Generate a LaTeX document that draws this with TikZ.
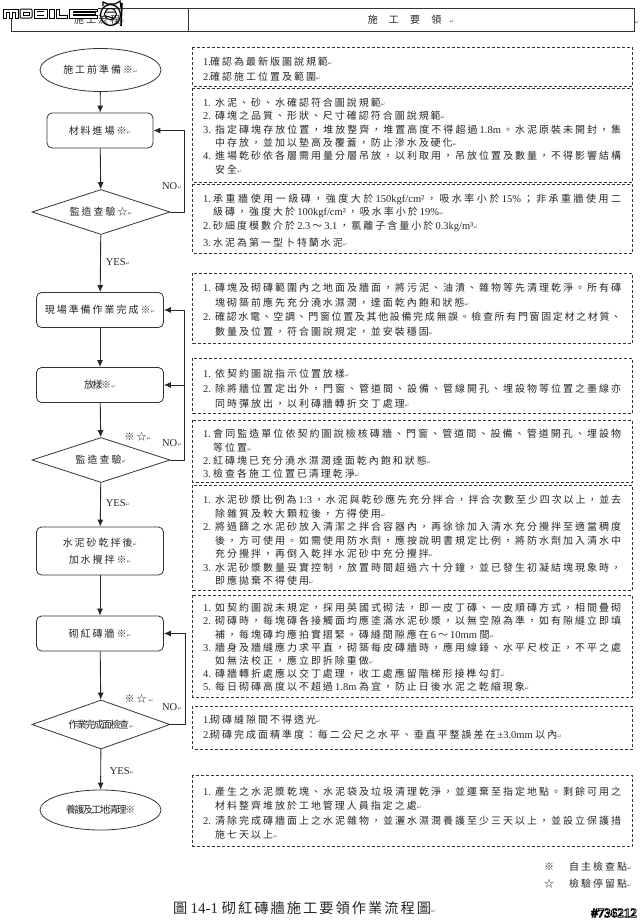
\documentclass[tikz,border=0pt]{standalone}
\usepackage{fontspec}
\usetikzlibrary{shapes.geometric,arrows.meta}
\setmainfont{Liberation Serif}
\newfontfamily\cjkf[Scale=0.95]{Noto Sans CJK TC}
\newfontfamily\latf{Liberation Serif}
\newfontfamily\djv{DejaVu Sans}
\newfontfamily\hds{Liberation Sans}
\newskip\cjgap \cjgap=2pt plus 12pt minus 2pt
\XeTeXinterchartokenstate=1
\newXeTeXintercharclass\cjkcls
\newXeTeXintercharclass\symcls
\newcount\cc
\def\setrange#1#2{\cc=#1\relax\loop\XeTeXcharclass\cc=\cjkcls\relax\ifnum\cc<#2\advance\cc by 1\repeat}
\setrange{"3000}{"303F}
\setrange{"4E00}{"9FFF}
\setrange{"FF00}{"FFEF}
\XeTeXcharclass"203B=\cjkcls
\XeTeXcharclass"2606=\cjkcls
\XeTeXcharclass"21B5=\symcls
\XeTeXinterchartoks 0 \cjkcls={\hskip\cjgap\cjkf}
\XeTeXinterchartoks \cjkcls 0={\hskip\cjgap\latf}
\XeTeXinterchartoks \cjkcls \cjkcls={\hskip\cjgap}
\XeTeXinterchartoks 4095 \cjkcls={\cjkf}
\XeTeXinterchartoks 4095 0={\latf}
\newcommand\rt{{\djv\fontsize{5.5}{6}\selectfont\color{black!60}↵}}
\def\numw{12pt}
\newcommand\stt{\vrule height 8pt depth 3pt width 0pt}
\newcommand\jn[2]{\hbox to 418pt{\stt\hbox to \numw{#1\hfil}#2}}
\newcommand\nn[2]{\hbox{\stt\hbox to \numw{#1\hfil}#2\rt}}
\newcommand\tight{\cjgap=-1.5pt\relax}
% block of text: name, first line centre y, pitch, number width, lines
\newcommand\tb[5]{\node[textblock] (#1) at (203,#2-4) {\vtop{\def\numw{#4}\baselineskip=#3pt\lineskiplimit=-20pt\lineskip=0pt #5}};}
\tikzset{
 textblock/.style={anchor=north west,inner sep=0pt,font=\fontsize{10.5}{12}\selectfont,text=black!85},
 flowtext/.style={font=\fontsize{10.5}{13}\selectfont,text=black!85,align=center,inner sep=0pt},
 procbox/.style={flowtext,draw=black!80,line width=0.8pt,rectangle,rounded corners=5pt,minimum width=127pt,minimum height=35pt},
 startend/.style={flowtext,draw=black!80,line width=0.8pt,ellipse,minimum width=121pt,minimum height=43pt},
 decision/.style={flowtext,draw=black!80,line width=0.8pt,diamond,aspect=3,minimum width=138pt,minimum height=45pt},
 notebox/.style={draw=black!80,line width=0.8pt,dash pattern=on 3pt off 2pt},
 headcell/.style={flowtext,draw=black!80,line width=0.8pt,rectangle,minimum height=23pt},
 arr/.style={draw=black!85,line width=0.9pt,-{Latex[length=7pt,width=6pt]}},
 lbl/.style={font=\fontsize{10.5}{12}\selectfont,text=black!85,inner sep=0pt},
 logoline/.style={draw=black,line width=1pt,fill=white},
}
\begin{document}
\begin{tikzpicture}[x=1pt,y=-1pt]
\useasboundingbox (0,0) rectangle (640,922);
\fill[white] (0,0) rectangle (640,922);
% header
\node[headcell,minimum width=177pt] (hl) at (99.5,19.5) {\raisebox{-3.5pt}{施工流程\rt}};
\node[headcell,minimum width=446pt] (hr) at (411,19.5) {\raisebox{-3.5pt}{施\hspace{9pt} 工\hspace{9pt} 要\hspace{9pt} 領\hspace{6pt} \rt}};
\node[lbl,anchor=west] (hend) at (634.5,23) {\rt};
% note boxes
\draw[notebox] (192.5,47) rectangle (632,86);
\draw[notebox] (192.5,88) rectangle (632,182);
\draw[notebox] (192.5,184) rectangle (632,253);
\draw[notebox] (192.5,273) rectangle (632,343);
\draw[notebox] (192.5,358) rectangle (632,413);
\draw[notebox] (192.5,420) rectangle (632,482);
\draw[notebox] (192.5,485) rectangle (632,590);
\draw[notebox] (192.5,595) rectangle (632,697);
\draw[notebox] (192.5,706) rectangle (632,749);
\draw[notebox] (192.5,775) rectangle (632,846);
% note texts
\tb{ta}{61}{14.5}{7pt}{\nn{1.}{確認為最新版圖說規範}\nn{2.}{確認施工位置及範圍}}
\tb{tb}{102}{13.3}{12pt}{
 \nn{1.}{水泥、砂、水確認符合圖說規範}
 \nn{2.}{磚塊之品質、形狀、尺寸確認符合圖說規範}
 \jn{3.}{指定磚塊存放位置，堆放整齊，堆置高度不得超過 1.8m。水泥原裝未開封，集}
 \nn{}{中存放，並加以墊高及覆蓋，防止滲水及硬化}
 \jn{4.}{進場乾砂依各層需用量分層吊放，以利取用，吊放位置及數量，不得影響結構}
 \nn{}{安全}}
\tb{tc}{198}{13.3}{10pt}{
 \jn{1.}{承重牆使用一級磚，強度大於 150kgf/cm²，吸水率小於 15\%；非承重牆使用二}
 \nn{}{級磚，強度大於 100kgf/cm²，吸水率小於 19\%}
 \nn{2.}{砂細度模數介於 2.3～3.1，氯離子含量小於 0.3kg/m³}
 \vskip 3.5pt
 \nn{3.}{水泥為第一型卜特蘭水泥}}
\tb{td}{287}{14.6}{12pt}{
 \jn{1.}{磚塊及砌磚範圍內之地面及牆面，將污泥、油漬、雜物等先清理乾淨。所有磚}
 \nn{}{塊砌築前應先充分澆水濕潤，達面乾內飽和狀態}
 \jn{2.}{確認水電、空調、門窗位置及其他設備完成無誤。檢查所有門窗固定材之材質、}
 \nn{}{數量及位置，符合圖說規定，並安裝穩固}}
\tb{te}{373}{14.8}{12pt}{
 \nn{1.}{依契約圖說指示位置放樣}
 \jn{2.}{除將牆位置定出外，門窗、管道間、設備、管線開孔、埋設物等位置之墨線亦}
 \nn{}{同時彈放出，以利磚牆轉折交丁處理}}
\tb{tf}{433}{13.4}{10pt}{
 \jn{1.}{會同監造單位依契約圖說檢核磚牆、門窗、管道間、設備、管道開孔、埋設物}
 \nn{}{等位置}
 \nn{2.}{紅磚塊已充分澆水濕潤達面乾內飽和狀態}
 \nn{3.}{檢查各施工位置已清理乾淨}}
\tb{tg}{499}{13.5}{12pt}{
 \jn{1.}{水泥砂漿比例為 1:3，水泥與乾砂應先充分拌合，拌合次數至少四次以上，並去}
 \nn{}{除雜質及較大顆粒後，方得使用}
 \jn{2.}{將過篩之水泥砂放入清潔之拌合容器內，再徐徐加入清水充分攪拌至適當稠度}
 \jn{}{後，方可使用。如需使用防水劑，應按說明書規定比例，將防水劑加入清水中}
 \nn{}{充分攪拌，再倒入乾拌水泥砂中充分攪拌}
 \jn{3.}{水泥砂漿數量妥實控制，放置時間超過六十分鐘，並已發生初凝結塊現象時，}
 \nn{}{即應拋棄不得使用}}
\tb{th}{607}{13.2}{12pt}{
 \jn{1.}{如契約圖說未規定，採用英國式砌法，即一皮丁磚、一皮順磚方式，相間疊砌}
 \jn{2.}{砌磚時，每塊磚各接觸面均應塗滿水泥砂漿，以無空隙為準，如有隙縫立即填}
 \nn{}{補，每塊磚均應拍實摺緊。磚縫間隙應在 6～10mm 間}
 \jn{3.}{牆身及牆縫應力求平直，砌築每皮磚牆時，應用線錘、水平尺校正，不平之處}
 \nn{}{如無法校正，應立即拆除重做}
 \nn{4.}{磚牆轉折處應以交丁處理，收工處應留階梯形接榫勾釘}
 \nn{5.}{每日砌磚高度以不超過 1.8m 為宜，防止日後水泥之乾縮現象}}
\tb{ti}{719}{15}{7pt}{
 \nn{1.}{砌磚縫隙間不得透光}
 \nn{2.}{砌磚完成面精準度：每二公尺之水平、垂直平整誤差在±3.0mm 以內}}
\tb{tj}{791}{14.3}{12pt}{
 \jn{1.}{產生之水泥漿乾塊、水泥袋及垃圾清理乾淨，並運棄至指定地點。剩餘可用之}
 \nn{}{材料整齊堆放於工地管理人員指定之處}
 \jn{2.}{清除完成磚牆面上之水泥雜物，並灑水濕潤養護至少三天以上，並設立保護措}
 \nn{}{施七天以上}}
% flow nodes
\node[startend] (s) at (100.5,70) {施工前準備※\rt};
\node[procbox,minimum width=106pt] (b1) at (100,130.5) {材料進場※\rt};
\node[decision] (d1) at (101,212) {監造查驗☆\rt};
\node[procbox] (b2) at (100,310) {現場準備作業完成※\rt};
\node[procbox] (b3) at (100,385) {{\tight 放樣※}\rt};
\node[decision] (d2) at (101,460) {監造查驗\rt};
\node[procbox,minimum height=48pt] (b4) at (100,551) {水泥砂乾拌後\rt\\[4pt]加水攪拌※\rt};
\node[procbox] (b5) at (100,633.5) {砌紅磚牆※\rt};
\node[decision,minimum height=49pt] (d3) at (101,724.5) {{\tight 作業完成面檢查}\rt};
\node[startend,minimum height=40pt] (e) at (100.5,810) {{\tight 養護及工地清理※}};
% connectors
\draw[arr] (s) -- (b1);
\draw[arr] (b1) -- (d1);
\draw[arr] (d1) -- (b2);
\draw[arr] (b2) -- (b3);
\draw[arr] (b3) -- (d2);
\draw[arr] (d2) -- (b4);
\draw[arr] (b4) -- (b5);
\draw[arr] (b5) -- (d3);
\draw[arr] (d3) -- (e);
\coordinate (r1) at (184,212);
\coordinate (r2) at (184,460);
\coordinate (r3) at (185,724.5);
\draw[arr] (d1.east) -- (r1) |- (b1.east);
\draw[arr] (d2.east) -- (r2) |- (b2.east);
\draw[arr] (r2 |- b3.east) -- (b3.east);
\draw[arr] (d3.east) -- (r3) |- (b5.east);
% labels
\node[lbl] (no1) at (172,186) {NO\rt};
\node[lbl] (y1) at (118,262) {YES\rt};
\node[lbl] (m2) at (138,437) {※☆\rt};
\node[lbl] (no2) at (172,443) {NO\rt};
\node[lbl] (y2) at (118,503) {YES\rt};
\node[lbl] (m3) at (139,699) {※☆ \rt};
\node[lbl] (no3) at (172,707) {NO\rt};
\node[lbl] (y3) at (122,771) {YES\rt};
% legend
\node[lbl,anchor=west] (k1) at (544,867) {※};
\node[lbl,anchor=west] (k1t) at (569,867) {自主檢查點\rt};
\node[lbl,anchor=west] (k2) at (544,884) {☆};
\node[lbl,anchor=west] (k2t) at (569,884) {檢驗停留點\rt};
% title
\node[lbl,anchor=west,font=\fontsize{15}{18}\selectfont,text=black!85] (title) at (173,908) {圖 14-1 砌紅磚牆施工要領作業流程圖\rt};
\node[lbl,anchor=east,font=\fontsize{13}{14}\selectfont,text=black] (wm) at (637,913) {\hds\bfseries\special{pdf:code 2 Tr 0.8 w 1 g 0 G}\#736212\special{pdf:code 0 Tr 0 g}};
% logo
\fill[white] (2,7.5) rectangle (98,18.8);
\draw[logoline] (3,18)--(3,9)--(18,9)--(18,18)--(15,18)--(15,12)--(12,12)--(12,18)--(9,18)--(9,12)--(6,12)--(6,18)--cycle;
\draw[logoline,rounded corners=1pt] (20,9) rectangle (32,18);
\draw[logoline] (23,12) rectangle (29,15);
\draw[logoline] (34,9) rectangle (47,18);
\draw[draw=black,line width=1pt] (37,11.8)--(44,11.8) (37,15)--(44,15);
\draw[logoline] (49,9) rectangle (54,18);
\draw[logoline] (56,9)--(59,9)--(59,15)--(67,15)--(67,18)--(56,18)--cycle;
\draw[logoline] (69,9)--(97,9)--(97,11.8)--(73,11.8)--(73,12.8)--(95,12.8)--(95,14.6)--(73,14.6)--(73,15.4)--(97,15.4)--(97,18)--(69,18)--cycle;
\draw[draw=black,line width=1.2pt] (103,6)--(103,2)--(108,4)--(115,4)--(120,1)--(121,8);
\draw[draw=black,line width=1.3pt] (110.5,15) ellipse[x radius=10,y radius=10.5];
\draw[draw=black,line width=1pt] (110.5,14) ellipse[x radius=6,y radius=5.5];
\draw[draw=black,line width=1pt] (105,12)--(116,12) (106,16)--(113,18);
\draw[draw=black,line width=1.6pt] (122,3)--(121,26);
\end{tikzpicture}
\end{document}
